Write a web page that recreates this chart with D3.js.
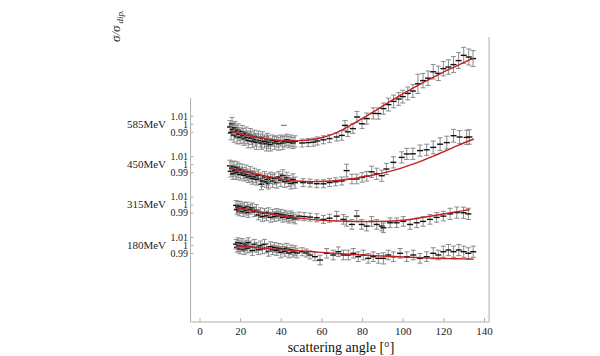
<!DOCTYPE html>
<html><head><meta charset="utf-8">
<script src="https://cdn.jsdelivr.net/npm/d3@7"></script>
<style>body{margin:0;background:#fff}svg{display:block}</style>
</head><body><svg id="c" width="600" height="356"></svg>
<script>
const energies = ["585MeV","450MeV","315MeV","180MeV"];
const offsets = [0.1515, 0.101, 0.0505, 0];
const xTicks = [0,20,40,60,80,100,120,140];
const yTickValues = [0.99, 1, 1.01];
const yTickLabels = ["0.99","1","1.01"];

const angles585 = [15,15.5,16,16.5,17,17.5,18,18.5,19,19.5,20,21,21.5,22,23,23.5,24,25,25.5,26,27,27.5,28,29,30,30.5,31,32,33,33.5,34,35,36,37,38,39,40,41,42,43,44,45,46,47,41.5,
 50.5,53.5,56,58,61,64,67.5,70,71.6,73,75.5,77.5,80,82.3,85.5,88,90.5,93,95.5,98,100,102.5,105,107.5,110,112.5,115,117.5,120,122.5,125,127.5,130,132.5,134.6];
const ratio585 = [0.996,0.989,1.000,0.993,0.986,0.995,0.990,0.984,0.992,0.987,0.983,0.990,0.985,0.981,0.988,0.983,0.979,0.986,0.982,0.978,0.984,0.980,0.977,0.983,0.979,0.976,0.982,0.978,0.975,0.980,0.977,0.974,0.979,0.976,0.978,0.975,0.979,0.976,0.978,0.980,0.977,0.979,0.976,0.978,0.998,
 0.976,0.9765,0.977,0.9785,0.980,0.9815,0.9835,0.9855,0.998,0.990,0.994,1.0085,1.000,1.0065,1.013,1.0128,1.019,1.024,1.028,1.031,1.034,1.038,1.041,1.050,1.054,1.057,1.065,1.063,1.069,1.071,1.074,1.079,1.0856,1.0835,1.0815];
const err585 = [0.008,0.009,0.008,0.008,0.009,0.008,0.008,0.009,0.008,0.008,0.008,0.008,0.009,0.008,0.008,0.008,0.009,0.008,0.008,0.008,0.008,0.008,0.009,0.008,0.008,0.008,0.008,0.008,0.009,0.008,0.008,0.008,0.007,0.008,0.007,0.008,0.007,0.008,0.007,0.007,0.007,0.007,0.007,0.007,0,
 0.005,0.005,0.005,0.005,0.005,0.005,0.005,0.006,0.006,0.006,0.006,0.007,0.006,0.007,0.007,0.007,0.007,0.008,0.008,0.008,0.008,0.008,0.008,0.012,0.009,0.009,0.009,0.009,0.009,0.009,0.010,0.010,0.010,0.010,0.010];

const angles450 = [15,15.5,16,16.5,17,17.5,18,18.5,19,19.5,20,21,21.5,22,23,23.5,24,25,25.5,26,27,27.5,28,29,30,30.5,31,32,33,33.5,34,35,36,37,38,39,40,41,42,43,44,45,46,47,
 51,54.4,57.7,61,64,67,70,72.4,75,77.4,80,82.3,84.7,87.2,89.7,92,95.4,99.5,102,105,108.5,111.8,115,118.4,121.7,125,128,131.5,132.8];
const ratio450 = [0.998,0.991,0.995,0.988,0.997,0.992,0.989,0.996,0.990,0.994,0.987,0.993,0.989,0.986,0.991,0.987,0.984,0.990,0.985,0.982,0.988,0.984,0.981,0.986,0.982,0.975,0.979,0.984,0.978,0.981,0.976,0.983,0.979,0.982,0.977,0.984,0.980,0.986,0.978,0.983,0.979,0.976,0.981,0.977,
 0.977,0.9765,0.9756,0.9755,0.977,0.978,0.979,0.992,0.9815,0.9815,0.9835,0.985,0.9905,0.988,0.9856,0.994,1.0023,1.0085,1.0128,1.013,1.017,1.018,1.021,1.025,1.027,1.0356,1.034,1.0335,1.034];
const err450 = [0.007,0.007,0.008,0.007,0.007,0.007,0.008,0.007,0.007,0.007,0.007,0.007,0.007,0.007,0.008,0.007,0.007,0.007,0.007,0.007,0.007,0.007,0.007,0.007,0.007,0.007,0.007,0.007,0.007,0.007,0.007,0.007,0.008,0.007,0.007,0.007,0.008,0.007,0.007,0.007,0.007,0.007,0.007,0.007,
 0.005,0.005,0.005,0.005,0.005,0.005,0.005,0.008,0.006,0.006,0.006,0.006,0.007,0.007,0.007,0.007,0.007,0.007,0.007,0.007,0.007,0.007,0.008,0.008,0.008,0.008,0.008,0.009,0.009];

const angles315 = [18,18.5,19,19.5,20,21,21.5,22,23,23.5,24,25,26,27,28,29,30,31,32,33,34,35,36,37,38,39,40,41,42,43,44,45,46,47,
 49,51.5,54.4,57.7,61,64,67.5,70.8,72.4,75,77.4,79.8,82.3,84.7,87.2,89.7,90.5,93.8,97,100.3,103.6,106.9,110,113.4,116.7,120,123.3,126.6,129.9,132.3];
const ratio315 = [0.999,0.994,0.997,0.992,0.998,0.995,0.991,0.996,0.993,0.997,0.990,0.994,0.996,0.991,0.993,0.987,0.990,0.985,0.989,0.986,0.990,0.984,0.988,0.985,0.989,0.986,0.988,0.984,0.987,0.985,0.983,0.986,0.984,0.982,
 0.9856,0.985,0.9844,0.9835,0.9815,0.983,0.9856,0.9815,0.979,0.9752,0.9856,0.9752,0.9731,0.979,0.9752,0.9731,0.971,0.9773,0.9773,0.979,0.9752,0.9773,0.979,0.9815,0.984,0.9856,0.9884,0.990,0.9898,0.9884];
const err315 = [0.006,0.006,0.007,0.006,0.006,0.006,0.006,0.007,0.006,0.006,0.006,0.006,0.006,0.006,0.007,0.006,0.006,0.006,0.006,0.006,0.006,0.006,0.006,0.006,0.006,0.006,0.006,0.006,0.006,0.006,0.006,0.006,0.006,0.006,
 0.005,0.005,0.005,0.005,0.005,0.005,0.006,0.006,0.006,0.006,0.007,0.006,0.006,0.006,0.006,0.006,0.006,0.006,0.006,0.006,0.006,0.006,0.006,0.006,0.006,0.006,0.007,0.007,0.007,0.007];

const angles180 = [18,18.5,19,19.5,20,21,21.5,22,23,23.5,24,25,26,27,28,29,30,31,32,33,34,35,36,37,38,39,40,41,42,43,44,45,46,47,48,
 50.5,52.5,54.4,56.8,59.3,62.6,65.8,68.3,70.8,73.2,75.7,78.1,80.6,83,85.5,88,90.5,92.9,95.4,98.7,102,105.2,108.5,111.8,115,117.5,120,122.5,125,127.6,130,132.3,134.7];
const ratio180 = [1.001,0.997,1.003,0.999,0.995,1.002,0.998,0.994,1.000,0.996,1.003,0.998,0.993,1.001,0.997,0.994,0.999,0.995,1.001,0.996,0.992,0.998,0.994,0.997,0.993,0.996,0.991,0.995,0.992,0.996,0.990,0.994,0.991,0.993,0.990,
 0.9916,0.990,0.9875,0.9854,0.9812,0.9896,0.9875,0.9916,0.9875,0.9875,0.9896,0.9854,0.9875,0.9833,0.9854,0.9833,0.9833,0.9875,0.9854,0.9896,0.9854,0.9875,0.9833,0.9854,0.9896,0.9875,0.9916,0.9937,0.9916,0.9937,0.9916,0.9896,0.9916];
const err180 = [0.006,0.006,0.006,0.007,0.006,0.006,0.006,0.006,0.006,0.006,0.006,0.007,0.006,0.006,0.006,0.006,0.006,0.006,0.006,0.006,0.006,0.006,0.006,0.006,0.006,0.006,0.007,0.006,0.006,0.006,0.006,0.006,0.006,0.006,0.006,
 0.005,0.005,0.005,0.005,0.006,0.006,0.006,0.006,0.006,0.006,0.006,0.006,0.006,0.006,0.006,0.006,0.007,0.006,0.006,0.006,0.006,0.006,0.006,0.006,0.007,0.006,0.007,0.007,0.007,0.007,0.007,0.007,0.007];

const fitAngles585 = [15,20,25,30,35,40,45,50,55,60,65,70,75,80,85,90,95,100,105,110,115,120,125,130,135];
const fit585 = [0.9910,0.9878,0.9848,0.9823,0.9803,0.9790,0.9785,0.9790,0.9800,0.9825,0.9865,0.9922,0.9992,1.0065,1.0140,1.0220,1.0300,1.0375,1.0445,1.0515,1.0580,1.0645,1.0705,1.0765,1.0820];
const fitAngles450 = [15,20,25,30,35,40,45,50,55,60,65,70,75,80,85,90,95,100,105,110,115,120,125,130,135];
const fit450 = [0.9945,0.9920,0.9893,0.9865,0.9840,0.9815,0.9797,0.9786,0.9782,0.9784,0.9790,0.9802,0.9818,0.9840,0.9862,0.9888,0.9920,0.9958,1.0000,1.0048,1.0100,1.0155,1.0210,1.0265,1.0315];
const fitAngles315 = [18,20,25,30,35,40,45,50,55,60,65,70,75,80,85,90,95,100,105,110,115,120,125,130,133];
const fit315 = [0.9958,0.9950,0.9930,0.9905,0.9880,0.9860,0.9843,0.9828,0.9815,0.9805,0.9798,0.9793,0.9790,0.9788,0.9788,0.9790,0.9795,0.9805,0.9820,0.9840,0.9860,0.9882,0.9905,0.9925,0.9937];
const fitAngles180 = [18,25,30,35,40,45,50,55,60,65,70,75,80,85,90,95,100,105,110,115,120,125,130,135];
const fit180 = [0.9988,0.9975,0.9963,0.9952,0.9943,0.9935,0.9927,0.9918,0.9908,0.9898,0.9890,0.9882,0.9875,0.9868,0.9862,0.9856,0.9850,0.9845,0.9840,0.9836,0.9832,0.9829,0.9826,0.9824];

const datasets = [
  {label: energies[0], off: offsets[0], ang: angles585, val: ratio585, err: err585, fa: fitAngles585, fv: fit585},
  {label: energies[1], off: offsets[1], ang: angles450, val: ratio450, err: err450, fa: fitAngles450, fv: fit450},
  {label: energies[2], off: offsets[2], ang: angles315, val: ratio315, err: err315, fa: fitAngles315, fv: fit315},
  {label: energies[3], off: offsets[3], ang: angles180, val: ratio180, err: err180, fa: fitAngles180, fv: fit180}
];

const svg = d3.select("#c");
const font = "'Liberation Serif','Times New Roman',serif";
const spineColor = "#b0b0b0";
const x = d3.scaleLinear().domain([0,140]).range([199.5,484]);
const y = d3.scaleLinear().domain([-0.09625,0.26]).range([322,37]);
const frame = {xmin:-4.4, xmax:142.5, yBottom:-0.09625, yLeftTop:0.18375, yRightTop:0.26};

// spines
svg.append("line").attr("x1",x(frame.xmin)).attr("x2",x(frame.xmin)).attr("y1",y(frame.yLeftTop)).attr("y2",y(frame.yBottom)).attr("stroke",spineColor).attr("stroke-width",1);
svg.append("line").attr("x1",x(frame.xmax)).attr("x2",x(frame.xmax)).attr("y1",y(frame.yRightTop)).attr("y2",y(frame.yBottom)).attr("stroke",spineColor).attr("stroke-width",1);
svg.append("line").attr("x1",x(frame.xmin)).attr("x2",x(frame.xmax)).attr("y1",y(frame.yBottom)).attr("y2",y(frame.yBottom)).attr("stroke",spineColor).attr("stroke-width",1);

// x axis
const xAxis = d3.axisBottom(x).tickValues(xTicks).tickFormat(d3.format("d")).tickSizeInner(-4).tickSizeOuter(0).tickPadding(5);
const gx = svg.append("g").attr("transform",`translate(0,${y(frame.yBottom)})`).call(xAxis);
gx.select(".domain").remove();
gx.selectAll(".tick line").attr("stroke",spineColor);
gx.selectAll("text").attr("font-family",font).attr("font-size",11).attr("fill","#222");

svg.append("text").attr("x",341).attr("y",351.5).attr("text-anchor","middle")
  .attr("font-family",font).attr("font-size",14).attr("fill","#111").text("scattering angle [°]");

// y label
const yl = svg.append("text").attr("transform","translate(120,42) rotate(-90)")
  .attr("font-family",font).attr("font-style","italic").attr("font-size",13).attr("fill","#222");
yl.append("tspan").text("σ/σ");
yl.append("tspan").attr("font-size",9).attr("dx",2).attr("dy",3).text("dip.");

// per-dataset y axes and labels
datasets.forEach(ds => {
  const yr = d3.scaleLinear().domain([0.99,1.01]).range([y(ds.off-0.01), y(ds.off+0.01)]);
  const ax = d3.axisLeft(yr).tickValues(yTickValues).tickFormat((d,i)=>yTickLabels[i]).tickSizeInner(-3).tickSizeOuter(0).tickPadding(2.5);
  const g = svg.append("g").attr("transform",`translate(${x(frame.xmin)},0)`).call(ax);
  g.select(".domain").remove();
  g.selectAll(".tick line").attr("stroke",spineColor);
  g.selectAll("text").attr("font-family",font).attr("font-size",10).attr("fill","#222");
  svg.append("text").attr("x",166).attr("y",y(ds.off)).attr("dy","0.35em").attr("text-anchor","end")
    .attr("font-family",font).attr("font-size",11).attr("fill","#222").text(ds.label);
});

// error bars
const barColor = "#7e7e7e";
datasets.forEach(ds => {
  const pts = ds.ang.map((a,i)=>({a, v: ds.val[i], e: ds.err[i]}));
  const py = v => y(v - 1 + ds.off);
  const g = svg.append("g");
  const gp = g.selectAll("g").data(pts).join("g");
  gp.append("line").attr("x1",d=>x(d.a)).attr("x2",d=>x(d.a)).attr("y1",d=>py(d.v-d.e)).attr("y2",d=>py(d.v+d.e)).attr("stroke",barColor).attr("stroke-width",0.9);
  gp.append("line").attr("x1",d=>x(d.a)-2.5).attr("x2",d=>x(d.a)+2.5).attr("y1",d=>py(d.v-d.e)).attr("y2",d=>py(d.v-d.e)).attr("stroke",barColor).attr("stroke-width",0.9);
  gp.append("line").attr("x1",d=>x(d.a)-2.5).attr("x2",d=>x(d.a)+2.5).attr("y1",d=>py(d.v+d.e)).attr("y2",d=>py(d.v+d.e)).attr("stroke",barColor).attr("stroke-width",0.9);
  gp.append("line").attr("x1",d=>x(d.a)-3).attr("x2",d=>x(d.a)+3).attr("y1",d=>py(d.v)).attr("y2",d=>py(d.v))
    .attr("stroke",d=>d.e > 0 ? "#111" : "#888").attr("stroke-width",d=>d.e > 0 ? 1.4 : 1);
});

// fit curves
datasets.forEach(ds => {
  const py = v => y(v - 1 + ds.off);
  const line = d3.line().x((d,i)=>x(ds.fa[i])).y(d=>py(d)).curve(d3.curveCatmullRom);
  svg.append("path").datum(ds.fv).attr("d",line).attr("fill","none").attr("stroke","#c02020").attr("stroke-width",1.4);
});
</script></body></html>
